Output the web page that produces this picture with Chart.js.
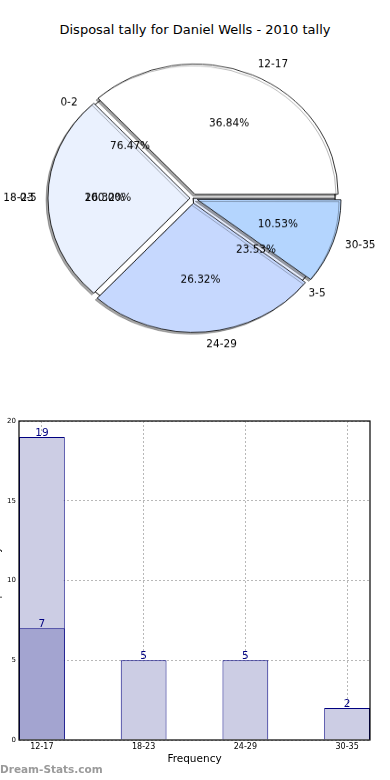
<!DOCTYPE html>
<html>
<head>
<meta charset="utf-8">
<script src="https://cdn.jsdelivr.net/npm/chart.js@4.4.0/dist/chart.umd.min.js"></script>
<style>
  body { margin: 0; background: #fff; width: 390px; height: 780px; overflow: hidden; position: relative; font-family: "DejaVu Sans", sans-serif; }
  #title { position: absolute; top: 22px; left: 0; width: 390px; text-align: center; font-size: 13px; color: #000; }
  #pieBox { position: absolute; left: 0; top: 40px; width: 390px; height: 320px; }
  #pieBox canvas { position: absolute; left: 0; top: 0; }
  #barChart { position: absolute; left: -10px; top: 400px; }
  #credit { position: absolute; left: 0; top: 763px; font-size: 10.5px; font-weight: bold; color: #9a9a9a; }
</style>
</head>
<body>
<div id="title">Disposal tally for Daniel Wells - 2010 tally</div>
<div id="pieBox">
  <canvas id="pieAll" width="390" height="352" style="width:390px;height:320px"></canvas>
  <canvas id="pieYoung" width="390" height="352" style="width:390px;height:320px"></canvas>
  <canvas id="pieAge" width="390" height="352" style="width:390px;height:320px"></canvas>
</div>
<canvas id="barChart" width="400" height="372" style="width:400px;height:372px"></canvas>
<div id="credit">Dream-Stats.com</div>

<script>
// pie data (matplotlib order, counter-clockwise from 3 o'clock)
const ageGroups = ["12-17", "18-23", "24-29", "30-35"];
const ageTally = [7, 5, 5, 2];
const youngGroups = ["0-2", "3-5"];
const youngTally = [13, 4];
const allYoungGroups = ["0-5"];
const allYoungTally = [17];

// bar data
const barCategories = ["12-17", "18-23", "24-29", "30-35"];
const barTotals = [19, 5, 5, 2];
const barFirst = [7, null, null, null];
const yTicks = [0, 5, 10, 15, 20];

Chart.defaults.font.family = "'DejaVu Sans', sans-serif";

// the pie is an ellipse in the original, canvas is squashed vertically
const squash = 0.9085;
const pieRadius = 142;

const shadowPlugin = {
    id: "shadow",
    beforeDatasetsDraw(chart) {
        const ctx = chart.ctx;
        ctx.save();
        ctx.shadowColor = "rgba(0,0,0,0.35)";
        ctx.shadowOffsetX = -2;
        ctx.shadowOffsetY = 2;
        ctx.shadowBlur = 0;
    },
    afterDatasetsDraw(chart) {
        chart.ctx.restore();
    }
};

function makePie(id, labels, values, colors, offsets, extraPlugins) {
    // chart.js goes clockwise, so reverse to get matplotlib's order
    return new Chart(document.getElementById(id), {
        type: "pie",
        data: {
            labels: [...labels].reverse(),
            datasets: [{
                data: [...values].reverse(),
                backgroundColor: [...colors].reverse(),
                offset: [...offsets].reverse(),
                borderColor: "#000",
                borderWidth: 0.8,
                hoverOffset: 0
            }]
        },
        options: {
            responsive: false,
            animation: false,
            events: [],
            rotation: 90,
            radius: pieRadius,
            layout: { padding: { left: 0, right: 4, top: 0, bottom: 4 } },
            plugins: { legend: { display: false }, tooltip: { enabled: false } }
        },
        plugins: extraPlugins || []
    });
}

function putText(ctx, text, x, y, align) {
    ctx.save();
    ctx.translate(x, y);
    ctx.scale(1, 1 / squash);
    ctx.font = "10.5px 'DejaVu Sans', sans-serif";
    ctx.fillStyle = "#000";
    ctx.textAlign = align;
    ctx.textBaseline = "middle";
    ctx.fillText(text, 0, 0);
    ctx.restore();
}

function drawPieLabels(ctx, chart) {
    const meta = chart.getDatasetMeta(0);
    const values = chart.data.datasets[0].data;
    const total = values.reduce((a, b) => a + b, 0);
    meta.data.forEach((arc, i) => {
        const p = arc.getProps(["x", "y", "startAngle", "endAngle", "outerRadius"]);
        const mid = (p.startAngle + p.endAngle) / 2;
        const shift = (arc.options.offset || 0) / 4;
        const cx = p.x + Math.cos(mid) * shift;
        const cy = p.y + Math.sin(mid) * shift;
        const c = Math.cos(mid), s = Math.sin(mid);
        putText(ctx, chart.data.labels[i], cx + c * p.outerRadius * 1.1, cy + s * p.outerRadius * 1.1, c > 0 ? "left" : "right");
        const pct = (values[i] / total * 100).toFixed(2) + "%";
        putText(ctx, pct, cx + c * p.outerRadius * 0.6, cy + s * p.outerRadius * 0.6, "center");
    });
}

const allPie = makePie("pieAll", allYoungGroups, allYoungTally, ["#ffffff"], [0]);
const youngPie = makePie("pieYoung", youngGroups, youngTally, ["#ffffff", "#e6edfd"], [0, 0]);

const labelPlugin = {
    id: "pieLabels",
    afterDraw(chart) {
        const ctx = chart.ctx;
        drawPieLabels(ctx, allPie);
        drawPieLabels(ctx, youngPie);
        drawPieLabels(ctx, chart);
    }
};

const agePie = makePie("pieAge", ageGroups, ageTally,
    ["#ffffff", "#eaf1fe", "#c6d8fe", "#b4d5fe"], [19, 12, 22, 18], [shadowPlugin, labelPlugin]);

// bar chart
const frame = {
    id: "frame",
    afterDraw(chart) {
        const a = chart.chartArea;
        const ctx = chart.ctx;
        ctx.save();
        ctx.strokeStyle = "#000";
        ctx.lineWidth = 1.2;
        ctx.strokeRect(a.left, a.top, a.right - a.left, a.bottom - a.top);
        ctx.restore();
    }
};

const barValues = {
    id: "barValues",
    afterDraw(chart) {
        const ctx = chart.ctx;
        ctx.save();
        ctx.font = "10.5px 'DejaVu Sans', sans-serif";
        ctx.fillStyle = "#000080";
        ctx.textAlign = "center";
        ctx.textBaseline = "alphabetic";
        chart.data.datasets.forEach((ds, d) => {
            chart.getDatasetMeta(d).data.forEach((bar, i) => {
                ctx.fillText(String(ds.data[i].y), bar.x, bar.y - 1);
            });
        });
        ctx.restore();
    }
};

new Chart(document.getElementById("barChart"), {
    type: "bar",
    data: {
        datasets: [
            {
                label: "first",
                data: barFirst.map((v, i) => ({ x: i, y: v })).filter(p => p.y !== null),
                backgroundColor: "#a3a4d0",
                borderColor: "#000080",
                borderWidth: 1,
                grouped: false,
                barPercentage: 0.45,
                categoryPercentage: 1,
                order: 0
            },
            {
                label: "total",
                data: barTotals.map((v, i) => ({ x: i, y: v })),
                backgroundColor: "#cccde4",
                borderColor: "#000080",
                borderWidth: 1,
                grouped: false,
                barPercentage: 0.45,
                categoryPercentage: 1,
                order: 1
            }
        ]
    },
    options: {
        responsive: false,
        animation: false,
        events: [],
        layout: { padding: { left: 0, top: 21, right: 20, bottom: 0 } },
        plugins: { legend: { display: false }, tooltip: { enabled: false } },
        scales: {
            x: {
                type: "linear",
                offset: false,
                bounds: "data",
                min: -0.225,
                max: 3.225,
                z: 1,
                afterBuildTicks: s => { s.ticks = barCategories.map((c, i) => ({ value: i })); },
                afterFit: s => { s.height = 32; },
                ticks: { callback: v => barCategories[v], font: { size: 8 }, color: "#000", padding: 2, autoSkip: false, maxRotation: 0 },
                grid: { color: "#b8b8b8", lineWidth: 1, drawTicks: false, offset: false },
                border: { display: false, dash: [2, 2] },
                title: { display: true, text: "Frequency", font: { size: 10.5 }, color: "#000", padding: { top: 0, bottom: 6 } }
            },
            y: {
                min: 0,
                max: 20,
                z: 1,
                afterBuildTicks: s => { s.ticks = yTicks.map(v => ({ value: v })); },
                afterFit: s => { s.width = 29; },
                ticks: { font: { size: 7 }, color: "#000", padding: 3 },
                grid: { color: "#b8b8b8", lineWidth: 1, drawTicks: false },
                border: { display: false, dash: [2, 2] },
                title: { display: true, text: "Disposal Tally", font: { size: 10 }, color: "#000", padding: { top: 1.5, bottom: 0 } }
            }
        }
    },
    plugins: [frame, barValues]
});
</script>
</body>
</html>
